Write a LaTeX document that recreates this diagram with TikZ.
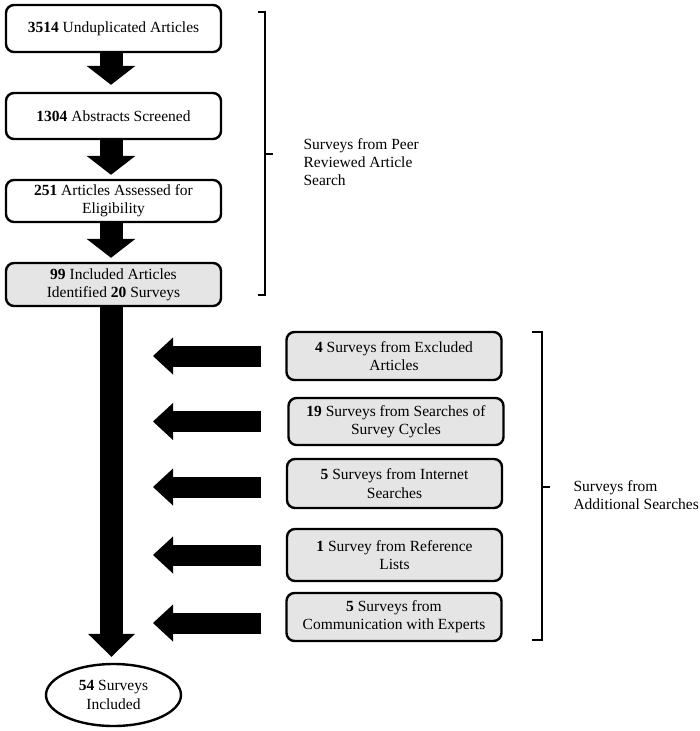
\documentclass[tikz,border=0pt]{standalone}
\usepackage{fontspec}
\setmainfont{Liberation Serif}
\usetikzlibrary{arrows.meta,shapes.geometric,calc}
\begin{document}
\begin{tikzpicture}[x=1pt,y=-1pt,
  txt/.style={font=\fontsize{15.5}{18.3}\selectfont},
  box/.style={txt,draw,line width=2.4pt,rounded corners=8pt,align=center,
    minimum width=215pt,inner sep=0pt,fill=white},
  gbox/.style={box,fill=black!10},
  vfat/.style={line width=23pt,-{Triangle[length=19pt,width=49pt,line width=0pt]}},
  vlong/.style={line width=23pt,-{Triangle[length=23pt,width=47pt,line width=0pt]}},
  hfat/.style={line width=21pt,-{Triangle[length=20pt,width=37pt,line width=0pt]}},
  brace/.style={line width=2.4pt,line join=miter}]
\useasboundingbox (0,0) rectangle (699,731);

% left column
\node[box,minimum height=47pt] (b1) at (113.5,28.5) {\textbf{3514} Unduplicated Articles};
\node[box,minimum height=46pt] (b2) at (113.5,116) {\textbf{1304} Abstracts Screened};
\node[box,minimum height=42pt] (b3) at (113.5,201) {\textbf{251} Articles Assessed for\\Eligibility};
\node[gbox,minimum height=43pt] (b4) at (113.5,284.5) {\textbf{99} Included Articles\\Identified \textbf{20} Surveys};
\node[txt,ellipse,draw,line width=2.4pt,minimum width=135pt,minimum height=62pt,inner sep=0pt,align=center]
  (e) at (113.5,695) {\textbf{54} Surveys\\Included};

\draw[vfat,shorten >=7pt] ($(b1.south)+(-2.5,0)$) -- ($(b2.north)+(-2.5,0)$);
\draw[vfat,shorten >=4pt] ($(b2.south)+(-2.5,0)$) -- ($(b3.north)+(-2.5,0)$);
\draw[vfat,shorten >=4pt] ($(b3.south)+(-2.5,0)$) -- ($(b4.north)+(-2.5,0)$);
\draw[vlong,shorten >=6pt] ($(b4.south)+(-2,0)$) -- ($(e.north)+(-2,0)$);

% right column
\node[gbox,minimum height=48pt] (r1) at (394,356) {\textbf{4} Surveys from Excluded\\Articles};
\node[gbox,minimum height=47pt] (r2) at (396,421.5) {\textbf{19} Surveys from Searches of\\Survey Cycles};
\node[gbox,minimum height=49pt] (r3) at (394.5,483.5) {\textbf{5} Surveys from Internet\\Searches};
\node[gbox,minimum height=52pt] (r4) at (394.5,555) {\textbf{1} Survey from Reference\\Lists};
\node[gbox,minimum height=48pt] (r5) at (394,617) {\textbf{5} Surveys from\\Communication with Experts};

\coordinate (trunk) at (153,0);
\draw[hfat] ($(r1.west)+(-24,0)$) -- (r1.west -| trunk);
\draw[hfat] ($(r2.west)+(-26,0)$) -- (r2.west -| trunk);
\draw[hfat] ($(r3.west)+(-25,3.5)$) -- ($(r3.west -| trunk)+(0,3.5)$);
\draw[hfat] ($(r4.west)+(-25,0)$) -- (r4.west -| trunk);
\draw[hfat] ($(r5.west)+(-24,6)$) -- ($(r5.west -| trunk)+(0,6)$);

% brackets
\coordinate (p1) at (258,12);
\coordinate (p2) at (265,12);
\coordinate (p3) at (265,295);
\coordinate (p4) at (258,295);
\coordinate (pm) at (265,154);
\draw[brace] (p1) -- (p2) -- (p3) -- (p4);
\draw[brace] (pm) -- ++(8,0);
\node[txt,anchor=west,align=left] (lp) at (300,162) {Surveys from Peer\\Reviewed Article\\Search};

\coordinate (q1) at (532,332);
\coordinate (q2) at (542,332);
\coordinate (q3) at (542,640);
\coordinate (q4) at (532,640);
\coordinate (qm) at (542,487);
\draw[brace] (q1) -- (q2) -- (q3) -- (q4);
\draw[brace] (qm) -- ++(8,0);
\node[txt,anchor=west,align=left] (la) at (570,495) {Surveys from\\Additional Searches};
\end{tikzpicture}
\end{document}
